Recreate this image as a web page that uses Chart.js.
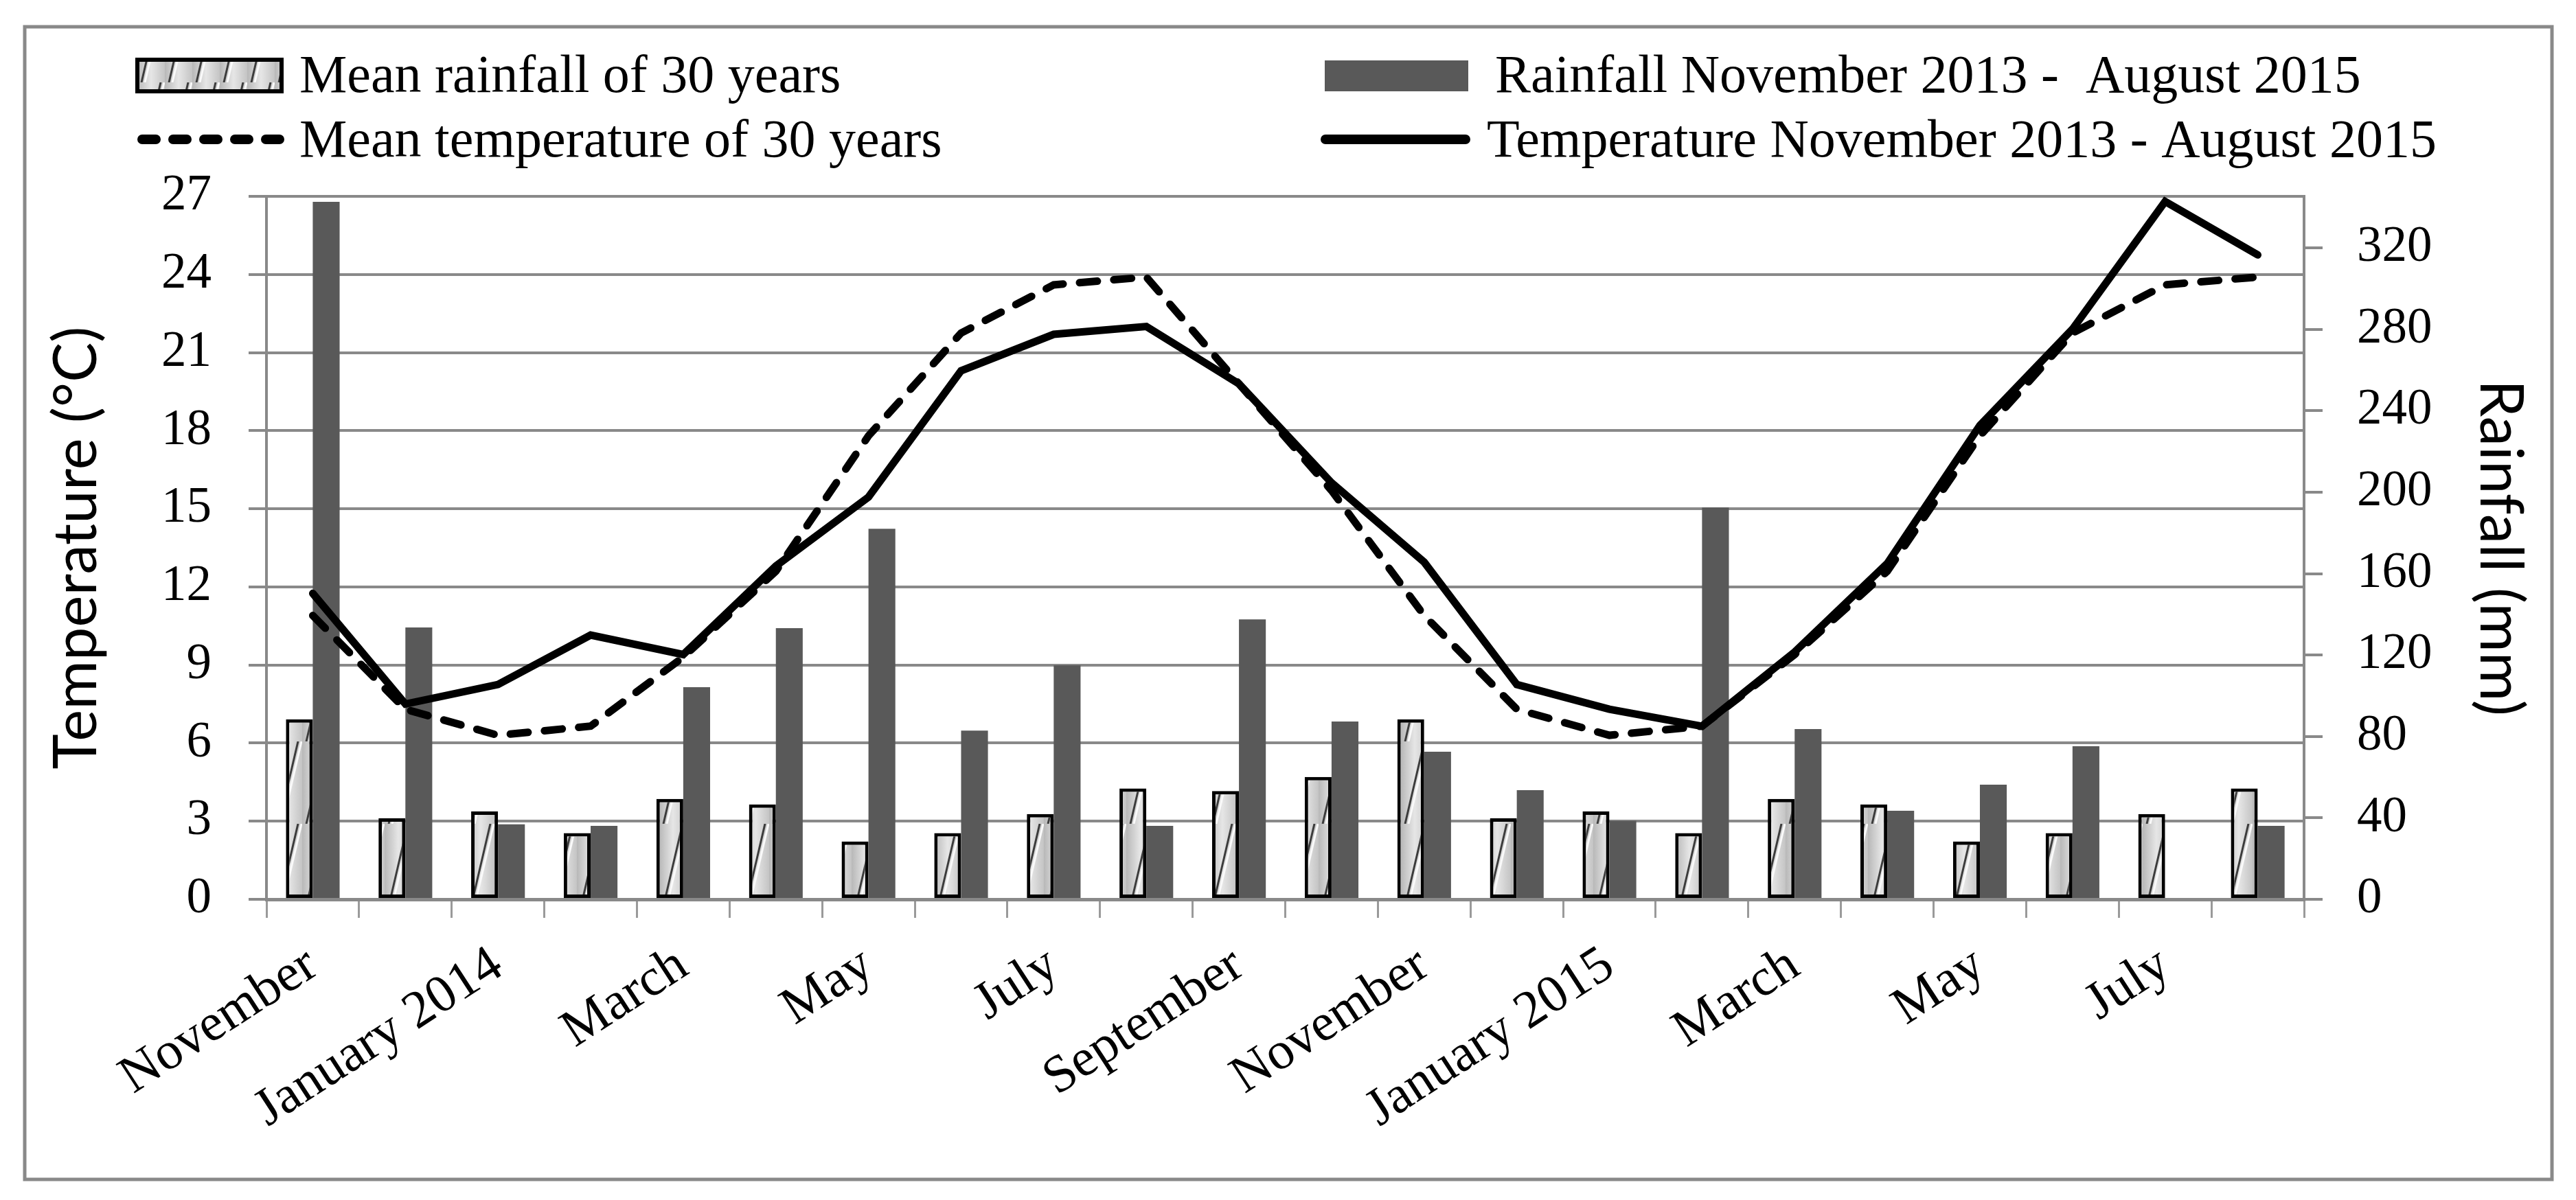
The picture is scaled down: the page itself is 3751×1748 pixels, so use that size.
<!DOCTYPE html>
<html>
<head>
<meta charset="utf-8">
<title>Rainfall and temperature, November 2013 - August 2015</title>
<script src="https://cdn.jsdelivr.net/npm/chart.js"></script>
<style>
  html, body { margin: 0; padding: 0; background: #fff; overflow: hidden; }
</style>
</head>
<body>
<canvas id="chart" width="3751" height="1748"></canvas>
<script>
  // months on the category axis (only every second one gets a label)
  const months = ['November', 'December', 'January 2014', 'February', 'March', 'April',
    'May', 'June', 'July', 'August', 'September', 'October', 'November', 'December',
    'January 2015', 'February', 'March', 'April', 'May', 'June', 'July', 'August'];

  // rainfall in mm (right axis)
  const meanRain = [88.4, 39.8, 43.2, 32.5, 49.3, 46.6, 28.4, 32.5, 41.9, 54.5, 53.2, 60.1,
    88.4, 39.8, 43.2, 32.5, 49.3, 46.6, 28.4, 32.5, 41.9, 54.5];
  const rain = [342.6, 133.5, 36.8, 36.1, 104.2, 133.2, 182, 82.9, 115, 36.1, 137.5, 87.3,
    72.5, 53.6, 38.5, 192.5, 83.6, 43.5, 56.3, 75.2, null, 36.1];

  // temperature in °C (left axis)
  const meanTemp = [10.9, 7.3, 6.3, 6.65, 9.3, 12.6, 17.8, 21.75, 23.6, 23.9, 19.8, 15.7,
    10.9, 7.3, 6.3, 6.65, 9.4, 12.6, 17.8, 21.75, 23.6, 23.9];
  const temp = [11.75, 7.5, 8.25, 10.15, 9.4, 12.8, 15.45, 20.3, 21.7, 22.0, 19.8, 16.0,
    12.95, 8.25, 7.3, 6.65, 9.5, 12.9, 18.2, 21.9, 26.8, 24.75];

  const tempMax = 27;
  const tempStep = 3;
  const rainTicks = [0, 40, 80, 120, 160, 200, 240, 280, 320];
  const rainMax = 345.3;

  const GRID = '#898989';
  const SERIF = 'Liberation Serif';

  // striped grey fill for the 30-year mean bars
  function stripes() {
    const c = document.createElement('canvas');
    c.width = 40; c.height = 120;
    const g = c.getContext('2d');
    const lg = g.createLinearGradient(0, 0, 40, 0);
    lg.addColorStop(0, '#b8b8b8');
    lg.addColorStop(0.5, '#e6e6e6');
    lg.addColorStop(1, '#c4c4c4');
    g.fillStyle = lg;
    g.fillRect(0, 0, 40, 120);
    g.lineWidth = 3;
    g.strokeStyle = '#3c3c3c';
    g.beginPath(); g.moveTo(6, 120); g.lineTo(34, 0); g.stroke();
    g.strokeStyle = '#fafafa';
    g.beginPath(); g.moveTo(11, 120); g.lineTo(39, 0); g.stroke();
    return g.createPattern(c, 'repeat');
  }
  const stripeFill = stripes();

  // outer grey frame
  const framePlugin = {
    id: 'frame',
    beforeDraw(chart) {
      const c = chart.ctx;
      c.save();
      c.fillStyle = '#fff';
      c.fillRect(0, 0, chart.width, chart.height);
      c.strokeStyle = GRID;
      c.lineWidth = 5;
      c.strokeRect(36, 39, 3680, 1679);
      c.restore();
    }
  };

  // two-column legend above the plot
  const legendPlugin = {
    id: 'twoColLegend',
    afterDraw(chart) {
      const c = chart.ctx;
      const ds = chart.data.datasets;
      c.save();
      c.font = '78px "' + SERIF + '"';
      c.fillStyle = '#000';
      c.textBaseline = 'alphabetic';

      // mean rainfall swatch
      c.fillStyle = stripeFill;
      c.fillRect(200, 87, 210, 46);
      c.strokeStyle = '#000';
      c.lineWidth = 6;
      c.strokeRect(200, 87, 210, 46);
      c.fillStyle = '#000';
      c.fillText(ds[0].label, 436, 134);

      // rainfall swatch
      c.fillStyle = ds[1].backgroundColor;
      c.fillRect(1929, 88, 209, 45);
      c.fillStyle = '#000';
      c.fillText(ds[1].label, 2177, 134);

      // mean temperature line
      c.strokeStyle = '#000';
      c.lineWidth = 14;
      c.lineCap = 'round';
      c.setLineDash([20, 25]);
      c.beginPath(); c.moveTo(207, 203); c.lineTo(412, 203); c.stroke();
      c.setLineDash([]);
      c.fillText(ds[2].label, 436, 228);

      // temperature line
      c.beginPath(); c.moveTo(1930, 203); c.lineTo(2134, 203); c.stroke();
      c.fillText(ds[3].label, 2165, 228);
      c.restore();
    }
  };

  const ctx = document.getElementById('chart').getContext('2d');
  const chart = new Chart(ctx, {
    type: 'bar',
    data: {
      labels: months,
      datasets: [
        {
          label: 'Mean rainfall of 30 years',
          data: meanRain,
          yAxisID: 'rain',
          backgroundColor: stripeFill,
          borderColor: '#000',
          borderWidth: 5,
          borderSkipped: false,
          order: 2
        },
        {
          label: 'Rainfall November 2013 -  August 2015',
          data: rain,
          yAxisID: 'rain',
          backgroundColor: '#595959',
          borderWidth: 0,
          order: 2
        },
        {
          type: 'line',
          label: 'Mean temperature of 30 years',
          data: meanTemp,
          yAxisID: 'temp',
          borderColor: '#000',
          borderWidth: 11,
          borderDash: [26, 24],
          borderCapStyle: 'round',
          pointRadius: 0,
          tension: 0,
          order: 1
        },
        {
          type: 'line',
          label: 'Temperature November 2013 - August 2015',
          data: temp,
          yAxisID: 'temp',
          borderColor: '#000',
          borderWidth: 11,
          borderCapStyle: 'round',
          pointRadius: 0,
          tension: 0,
          order: 0
        }
      ]
    },
    options: {
      responsive: false,
      animation: false,
      devicePixelRatio: 1,
      layout: { padding: { left: 40, right: 51, top: 286, bottom: 40 } },
      datasets: { bar: { categoryPercentage: 0.58, barPercentage: 1 } },
      plugins: {
        legend: { display: false },
        tooltip: { enabled: false }
      },
      scales: {
        x: {
          grid: { display: true, drawOnChartArea: false, drawTicks: true, tickLength: 27,
                  color: '#9a9a9a', lineWidth: 3, offset: true },
          border: { display: true, color: GRID, width: 5 },
          ticks: {
            autoSkip: false,
            minRotation: 33,
            maxRotation: 33,
            padding: 24,
            color: '#000',
            font: { family: SERIF, size: 77 },
            callback: function (v, i) { return i % 2 === 0 ? this.getLabelForValue(v) : ''; }
          },
          afterFit: s => { s.height = 398; }
        },
        temp: {
          position: 'left',
          min: 0,
          max: tempMax,
          ticks: { stepSize: tempStep, padding: 54, color: '#000', font: { family: SERIF, size: 73 } },
          grid: { color: GRID, lineWidth: 4, tickLength: 26 },
          border: { display: true, color: GRID, width: 4 },
          title: {
            display: true,
            text: 'Temperature (°C)',
            color: '#000',
            font: { family: 'Lato', size: 87 },
            padding: { top: 20, bottom: 0 }
          },
          afterFit: s => { s.width = 348; }
        },
        rain: {
          position: 'right',
          min: 0,
          max: rainMax,
          afterBuildTicks: s => { s.ticks = rainTicks.map(v => ({ value: v })); },
          ticks: { padding: 50, color: '#000', font: { family: SERIF, size: 73 } },
          grid: { drawOnChartArea: false, color: GRID, lineWidth: 4, tickLength: 27 },
          border: { display: true, color: GRID, width: 4 },
          title: {
            display: true,
            text: 'Rainfall (mm)',
            color: '#000',
            font: { family: 'Lato', size: 87 },
            padding: { top: 8, bottom: 0 }
          },
          afterFit: s => { s.width = 345; }
        }
      }
    },
    plugins: [framePlugin, legendPlugin]
  });
</script>
</body>
</html>
